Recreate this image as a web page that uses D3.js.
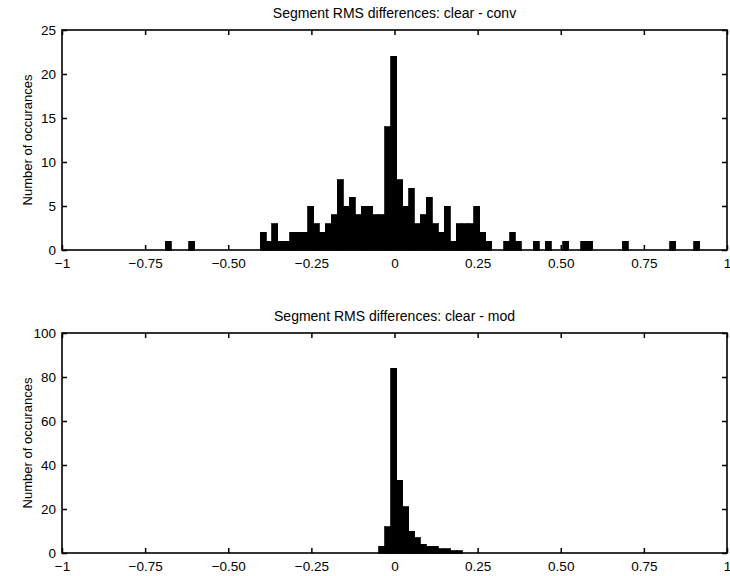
<!DOCTYPE html>
<html>
<head>
    <title>Segment RMS differences</title>
    <script src="https://d3js.org/d3.v7.min.js"></script>
    <style>
        body { margin: 0; background: #fff; }
        text { font-family: "Liberation Sans", Arial, sans-serif; fill: #000; }
    </style>
</head>
<body>
    <svg width="730" height="576"></svg>
    <script>
        // Histogram bins (shared bin width)
        var binWidth = 0.01786;

        // clear - conv
        var convStart = -0.690;
        var convCounts = [
            1, 0, 0, 0, 1, 0, 0, 0, 0, 0,
            0, 0, 0, 0, 0, 0, 2, 1, 3, 1,
            1, 2, 2, 2, 5, 3, 2, 3, 4, 8,
            5, 6, 4, 5, 5, 4, 4, 14, 22, 8,
            5, 7, 3, 4, 6, 3, 2, 5, 1, 3,
            3, 3, 5, 2, 1, 0, 0, 1, 2, 1,
            0, 0, 1, 0, 1, 0, 0, 1, 0, 0,
            1, 1, 0, 0, 0, 0, 0, 1, 0, 0,
            0, 0, 0, 0, 0, 1, 0, 0, 0, 1
        ];

        // clear - mod
        var modStart = -0.047;
        var modCounts = [3, 12, 84, 33, 21, 10, 7, 4, 3, 3, 2, 2, 1, 1];

        var xTicks = [-1, -0.75, -0.5, -0.25, 0, 0.25, 0.5, 0.75, 1];
        var xTickLabels = ["\u22121", "\u22120.75", "\u22120.50", "\u22120.25", "0", "0.25", "0.50", "0.75", "1"];
        var convYTicks = [0, 5, 10, 15, 20, 25];
        var modYTicks = [0, 20, 40, 60, 80, 100];

        var svg = d3.select("svg");
        var left = 62, right = 727;

        var x = d3.scaleLinear().domain([-1, 1]).range([left, right]);

        function drawPanel(top, bottom, title, start, counts, yTicks) {
            var y = d3.scaleLinear().domain([0, yTicks[yTicks.length - 1]]).range([bottom, top]);
            var g = svg.append("g");

            // bars
            g.selectAll("rect.bar")
                .data(counts)
                .enter()
                .append("rect")
                .attr("class", "bar")
                .attr("x", function(d, i) { return x(start + i * binWidth); })
                .attr("width", function(d, i) { return x(start + (i + 1) * binWidth) - x(start + i * binWidth); })
                .attr("y", function(d) { return y(d); })
                .attr("height", function(d) { return bottom - y(d); })
                .attr("fill", "#000")
                .attr("stroke", "#000")
                .attr("stroke-width", 0.8)
                .attr("shape-rendering", "crispEdges");

            // axes, ticks inside on all four sides
            g.append("g")
                .attr("transform", "translate(0," + bottom + ")")
                .call(d3.axisBottom(x).tickValues(xTicks)
                    .tickFormat(function(d, i) { return xTickLabels[i]; })
                    .tickSize(-5).tickSizeOuter(0).tickPadding(8));
            g.append("g")
                .attr("transform", "translate(0," + top + ")")
                .call(d3.axisTop(x).tickValues(xTicks).tickFormat("")
                    .tickSize(-5).tickSizeOuter(0));
            g.append("g")
                .attr("transform", "translate(" + left + ",0)")
                .call(d3.axisLeft(y).tickValues(yTicks)
                    .tickSize(-5).tickSizeOuter(0).tickPadding(6));
            g.append("g")
                .attr("transform", "translate(" + right + ",0)")
                .call(d3.axisRight(y).tickValues(yTicks).tickFormat("")
                    .tickSize(-5).tickSizeOuter(0));

            g.selectAll(".domain").remove();
            g.selectAll(".tick line").attr("stroke", "#000").attr("stroke-width", 1.5);
            g.selectAll(".tick text").attr("font-size", 13.5).attr("font-family", "'Liberation Sans', Arial, sans-serif");

            // box
            g.append("rect")
                .attr("x", left).attr("y", top)
                .attr("width", right - left).attr("height", bottom - top)
                .attr("fill", "none").attr("stroke", "#000").attr("stroke-width", 1.6);

            g.append("text")
                .attr("x", (left + right) / 2)
                .attr("y", top - 12)
                .attr("text-anchor", "middle")
                .attr("font-size", 14)
                .text(title);

            g.append("text")
                .attr("transform", "translate(27," + (top + bottom) / 2 + ") rotate(-90)")
                .attr("text-anchor", "middle")
                .attr("dy", "0.35em")
                .attr("font-size", 13)
                .text("Number of occurances");
        }

        drawPanel(30, 250, "Segment RMS differences: clear - conv", convStart, convCounts, convYTicks);
        drawPanel(333, 553, "Segment RMS differences: clear - mod", modStart, modCounts, modYTicks);
    </script>
</body>
</html>
